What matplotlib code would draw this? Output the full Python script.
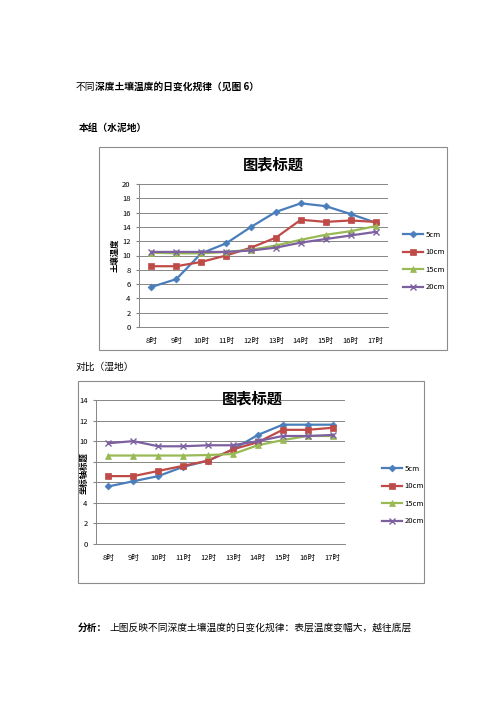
import matplotlib
matplotlib.use('Agg')
import matplotlib.pyplot as plt
from matplotlib.patches import Rectangle

plt.rcParams['font.family'] = ['Noto Sans CJK SC', 'DejaVu Sans']

hours = ['8时', '9时', '10时', '11时', '12时', '13时', '14时', '15时', '16时', '17时']
series_names = ['5cm', '10cm', '15cm', '20cm']

# 本组（水泥地）
cement_5 = [5.6, 6.7, 10.3, 11.7, 14.0, 16.1, 17.3, 16.9, 15.8, 14.6]
cement_10 = [8.5, 8.5, 9.1, 10.0, 11.1, 12.5, 15.0, 14.7, 14.9, 14.7]
cement_15 = [10.4, 10.3, 10.3, 10.5, 10.8, 11.4, 12.2, 12.9, 13.4, 14.1]
cement_20 = [10.5, 10.5, 10.5, 10.5, 10.7, 11.1, 11.8, 12.3, 12.8, 13.3]

# 对比（湿地）
wet_5 = [5.6, 6.1, 6.6, 7.5, 8.1, 9.2, 10.6, 11.6, 11.6, 11.6]
wet_10 = [6.6, 6.6, 7.1, 7.6, 8.1, 9.2, 9.9, 11.1, 11.1, 11.3]
wet_15 = [8.6, 8.6, 8.6, 8.6, 8.65, 8.75, 9.6, 10.1, 10.5, 10.5]
wet_20 = [9.8, 10.0, 9.5, 9.5, 9.6, 9.6, 10.0, 10.5, 10.5, 10.6]

colors = ['#4A7EBB', '#BE4B48', '#98B954', '#7D60A0']
markers = ['D', 's', '^', 'x']
msizes = [3.5, 4.5, 4.5, 4.5]

W, H = 496, 702
fig = plt.figure(figsize=(W / 100, H / 100), dpi=100)


def fx(px):
    return px / W


def fy(py):
    return 1 - py / H


def box(x0, y0, x1, y1):
    fig.patches.append(Rectangle((fx(x0), fy(y1)), fx(x1) - fx(x0), fy(y0) - fy(y1),
                                 transform=fig.transFigure, fill=False,
                                 edgecolor='#8c8c8c', linewidth=0.8))


def chart(rect, data, ymax, ylabel, title, title_xy, leg_xy, ylabel_xy, hidden=()):
    ax = fig.add_axes(rect)
    x = list(range(len(hours)))
    lines = []
    for vals, c, m, ms, name in zip(data, colors, markers, msizes, series_names):
        ln, = ax.plot(x, vals, color=c, marker=m, markersize=ms, linewidth=1.6,
                      markeredgewidth=1.0 if m == 'x' else 0.5, label=name)
        lines.append(ln)
    ax.set_xlim(-0.5, len(hours) - 0.5)
    ax.set_ylim(0, ymax)
    yt = list(range(0, ymax + 1, 2))
    ax.set_yticks(yt)
    # the axis title hides some tick labels in the original
    ax.set_yticklabels(['' if v in hidden else str(v) for v in yt])
    ax.set_xticks(x)
    ax.set_xticklabels(hours)
    ax.grid(axis='y', color='#868686', linewidth=0.7)
    ax.set_axisbelow(True)
    for s in ['top', 'right']:
        ax.spines[s].set_visible(False)
    for s in ['left', 'bottom']:
        ax.spines[s].set_color('#868686')
        ax.spines[s].set_linewidth(0.7)
    ax.tick_params(axis='both', labelsize=5.5, length=2, color='#868686', pad=4)
    ax.tick_params(axis='x', length=0, pad=7)
    fig.text(fx(title_xy[0]), fy(title_xy[1]), title, fontsize=11, fontweight='bold',
             ha='center', va='center')
    fig.text(fx(ylabel_xy[0]), fy(ylabel_xy[1]), ylabel, fontsize=6, fontweight='bold',
             rotation=90, ha='center', va='center')
    fig.legend(handles=lines, loc='center left',
               bbox_to_anchor=(fx(leg_xy[0]), fy(leg_xy[1])), frameon=False,
               fontsize=5.5, handlelength=2.6, labelspacing=1.25, handletextpad=0.4)
    return ax


# chart 1
box(99, 147, 447, 350)
chart([fx(139), fy(327), fx(388) - fx(139), fy(184) - fy(327)],
      [cement_5, cement_10, cement_15, cement_20], 20, '土壤温度', '图表标题',
      (273, 164), (396, 261), (115, 255))

# chart 2
box(78, 381, 424, 583)
chart([fx(96), fy(544), fx(345) - fx(96), fy(400) - fy(544)],
      [wet_5, wet_10, wet_15, wet_20], 14, '坐标轴标题', '图表标题',
      (252, 398), (375, 495), (84, 473), hidden=(6, 8))

# document text
fig.text(fx(76), fy(87), '不同', fontsize=7, va='center')
fig.text(fx(95), fy(87), '深度土壤温度的日变化规律（见图 6）', fontsize=7,
         fontweight='bold', va='center')
fig.text(fx(79), fy(128), '本组（水泥地）', fontsize=7, fontweight='bold', va='center')
fig.text(fx(76), fy(367), '对比（湿地）', fontsize=7, va='center')
fig.text(fx(78), fy(628), '分析：', fontsize=7, fontweight='bold', va='center')
fig.text(fx(109), fy(628), '上图反映不同深度土壤温度的日变化规律：表层温度变幅大，越往底层',
         fontsize=7, va='center')

fig.savefig('out.png', dpi=100)
